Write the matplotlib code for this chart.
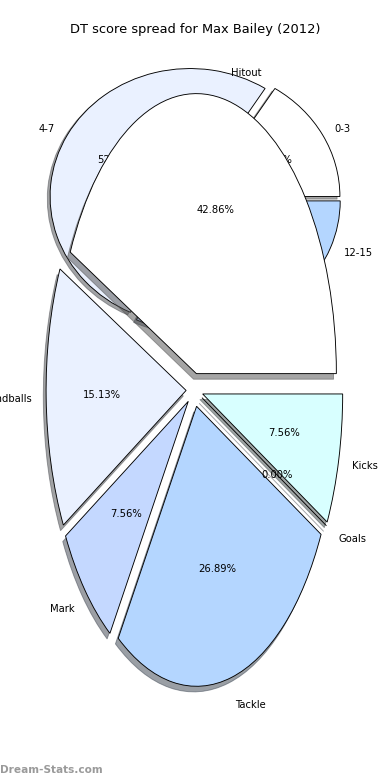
import matplotlib
matplotlib.use("Agg")
import matplotlib.pyplot as plt

# DT score spread (top pie)
dt_labels = ["0-3", "4-7", "8-11", "12-15"]
dt_counts = [4, 13, 5, 3]
dt_colors = ["#ffffff", "#eaf1ff", "#c4d8ff", "#b4d6ff"]

# Stat breakdown (bottom pie)
st_labels = ["Kicks", "Goals", "Tackle", "Mark", "Handballs", "Hitout"]
st_counts = [9, 0, 32, 9, 18, 51]
st_colors = ["#d8ffff", "#e0ecff", "#b4d6ff", "#c4d8ff", "#eaf1ff", "#ffffff"]

W, H = 390, 780
fig = plt.figure(figsize=(W / 72, H / 72), dpi=72)

wp = {"edgecolor": "black", "linewidth": 0.9}

# top axes: centre (195,199), rx 140, ry 128
ax1 = fig.add_axes([(195 - 175) / W, (H - 199 - 160) / H, 350 / W, 320 / H])
ax1.pie(dt_counts, labels=dt_labels, colors=dt_colors, autopct="%.2f%%",
        explode=[0.04] * len(dt_counts), shadow=True, startangle=0,
        counterclock=True, wedgeprops=wp, textprops={"fontsize": 10})
ax1.set_aspect("auto")
ax1.set_xlim(-1.25, 1.25)
ax1.set_ylim(-1.25, 1.25)

# bottom axes: centre (194.5,390), rx 140, ry 280
ax2 = fig.add_axes([(194.5 - 175) / W, (H - 390 - 350) / H, 350 / W, 700 / H])
ax2.pie(st_counts, labels=st_labels, colors=st_colors, autopct="%.2f%%",
        explode=[0.06] * len(st_counts), shadow=True, startangle=0,
        counterclock=False, wedgeprops=wp, textprops={"fontsize": 10})
ax2.set_aspect("auto")
ax2.set_xlim(-1.25, 1.25)
ax2.set_ylim(-1.25, 1.25)

fig.text(195 / W, 1 - 30 / H, "DT score spread for Max Bailey (2012)",
         ha="center", va="center", fontsize=13)
fig.text(0.0, 1 - 770 / H, "Dream-Stats.com", ha="left", va="center",
         fontsize=10.5, color="#9a9a9a", fontweight="bold")

fig.savefig("out.png", dpi=72)
